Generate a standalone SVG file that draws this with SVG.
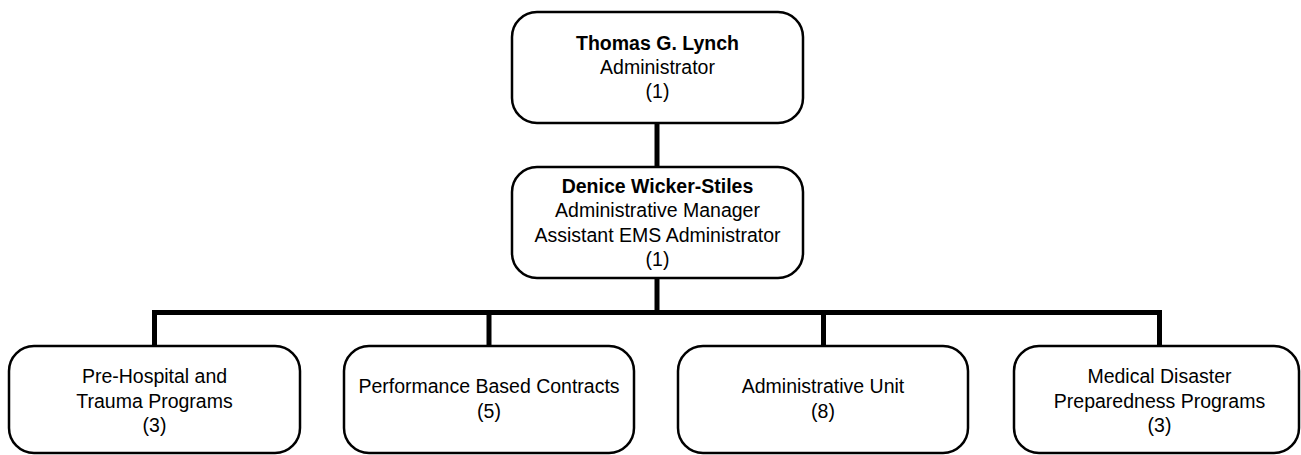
<svg xmlns="http://www.w3.org/2000/svg" width="1301" height="455" viewBox="0 0 1301 455">
<style>
.box{fill:#fff;stroke:#000;stroke-width:2.5}
.t{font-family:"Liberation Sans",Arial,sans-serif;font-size:19.5px;fill:#000;text-anchor:middle}
.b{font-weight:bold}
.c{stroke:#000;stroke-width:5;fill:none}
</style>
<rect width="1301" height="455" fill="#fff"/>
<g id="connectors">
<line class="c" x1="657" y1="123" x2="657" y2="167"/>
<line class="c" x1="657" y1="278" x2="657" y2="312.5"/>
<polyline class="c" points="154.5,346 154.5,312.5 1159.5,312.5 1159.5,346"/>
<line class="c" x1="489" y1="312.5" x2="489" y2="346"/>
<line class="c" x1="823.5" y1="312.5" x2="823.5" y2="346"/>
</g>
<g id="lynch">
<rect class="box" x="512" y="12" width="291" height="111" rx="25"/>
<text class="t b" x="657.5" y="50">Thomas G. Lynch</text>
<text class="t" x="657.5" y="74">Administrator</text>
<text class="t" x="657.5" y="98">(1)</text>
</g>
<g id="wicker">
<rect class="box" x="512" y="167" width="291" height="111" rx="25"/>
<text class="t b" x="657.5" y="193">Denice Wicker-Stiles</text>
<text class="t" x="657.5" y="217">Administrative Manager</text>
<text class="t" x="657.5" y="242">Assistant EMS Administrator</text>
<text class="t" x="657.5" y="266">(1)</text>
</g>
<g id="prehospital">
<rect class="box" x="9" y="346" width="291" height="107" rx="25"/>
<text class="t" x="154.5" y="383">Pre-Hospital and</text>
<text class="t" x="154.5" y="408">Trauma Programs</text>
<text class="t" x="154.5" y="432">(3)</text>
</g>
<g id="performance">
<rect class="box" x="344" y="346" width="290" height="107" rx="25"/>
<text class="t" x="489" y="393">Performance Based Contracts</text>
<text class="t" x="489" y="418">(5)</text>
</g>
<g id="adminunit">
<rect class="box" x="678" y="346" width="290" height="107" rx="25"/>
<text class="t" x="823" y="393">Administrative Unit</text>
<text class="t" x="823" y="418">(8)</text>
</g>
<g id="disaster">
<rect class="box" x="1014" y="346" width="285" height="107" rx="25"/>
<text class="t" x="1159.5" y="383">Medical Disaster</text>
<text class="t" x="1159.5" y="408">Preparedness Programs</text>
<text class="t" x="1159.5" y="432">(3)</text>
</g>
</svg>
